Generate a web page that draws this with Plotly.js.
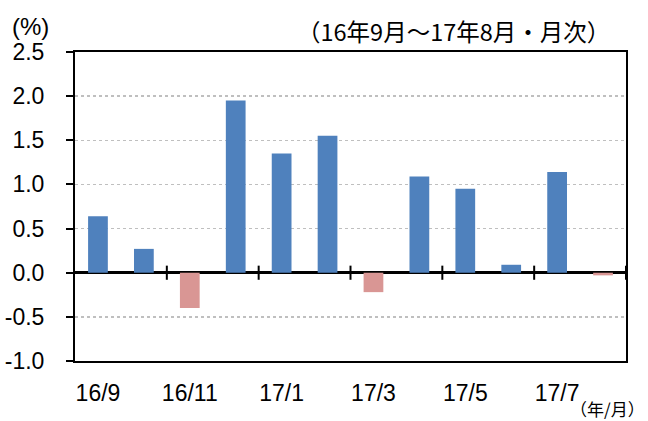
<!DOCTYPE html>
<html>
<head>
<meta charset="utf-8">
<script src="https://cdn.plot.ly/plotly-3.0.1.min.js"></script>
<style>
html,body{margin:0;padding:0;background:#fff;}
#chart{width:648px;height:421px;}
</style>
</head>
<body>
<div id="chart"></div>
<script>
const months = ["16/9","16/10","16/11","16/12","17/1","17/2","17/3","17/4","17/5","17/6","17/7","17/8"];
const values = [0.64, 0.27, -0.40, 1.95, 1.35, 1.55, -0.22, 1.09, 0.95, 0.09, 1.14, -0.03];
const yTickVals = [-1.0, -0.5, 0.0, 0.5, 1.0, 1.5, 2.0, 2.5];
const yTickText = ["-1.0", "-0.5", "0.0", "0.5", "1.0", "1.5", "2.0", "2.5"];
const labelEvery = 2;
const posColor = "#4F81BD";
const negColor = "#D99694";

const xIdx = months.map((m, i) => i);
const tickvals = xIdx.filter(i => i % labelEvery === 0);
const ticktext = tickvals.map(i => months[i]);

const numFont = "Liberation Sans, Arial, sans-serif";
const jpFont = "Noto Sans CJK JP, sans-serif";

const shapes = [];
for (let b = labelEvery - 0.5; b <= months.length - 0.5; b += labelEvery) {
  shapes.push({type: "line", xref: "x", yref: "y", x0: b, x1: b, y0: -0.08, y1: 0.08,
    line: {color: "#000", width: 2}});
}

const trace = {
  type: "bar",
  x: xIdx,
  y: values,
  marker: {color: values.map(v => v >= 0 ? posColor : negColor)},
  width: 0.43,
  hoverinfo: "skip"
};

const layout = {
  width: 648, height: 421,
  margin: {l: 74.5, r: 21.5, t: 52, b: 60},
  paper_bgcolor: "#fff", plot_bgcolor: "#fff",
  showlegend: false,
  font: {family: numFont, size: 23, color: "#000"},
  xaxis: {
    range: [-0.5, months.length - 0.5],
    tickvals: tickvals, ticktext: ticktext,
    ticks: "", showgrid: false, zeroline: false,
    showline: true, linecolor: "#000", linewidth: 2, mirror: true,
    ticklabelstandoff: 10,
    tickfont: {family: numFont, size: 23, color: "#000"}
  },
  yaxis: {
    range: [-1, 2.5], tickvals: yTickVals, ticktext: yTickText,
    ticks: "outside", ticklen: 7, tickwidth: 2, tickcolor: "#000",
    showline: true, linecolor: "#000", linewidth: 2, mirror: true,
    showgrid: true, gridcolor: "#BFBFBF", gridwidth: 1.5, griddash: "dot",
    zeroline: true, zerolinecolor: "#000", zerolinewidth: 3,
    ticklabelstandoff: 17,
    tickfont: {family: numFont, size: 23, color: "#000"}
  },
  shapes: shapes,
  annotations: [
    {text: "(%)", xref: "paper", yref: "paper", x: 0, y: 1.0, xshift: -65, yshift: 26,
     xanchor: "left", yanchor: "middle", showarrow: false,
     font: {family: numFont, size: 24, color: "#000"}},
    {text: "（16年9月～17年8月・月次）", xref: "paper", yref: "paper", x: 1.0, y: 1.0, xshift: -14, yshift: 21,
     xanchor: "right", yanchor: "middle", showarrow: false,
     font: {family: jpFont, size: 23.5, color: "#000"}},
    {text: "（年/月）", xref: "paper", yref: "paper", x: 1.0, y: 0, xshift: 20, yshift: -47,
     xanchor: "right", yanchor: "middle", showarrow: false, borderpad: 0,
     font: {family: jpFont, size: 17, color: "#000"}}
  ]
};

Plotly.newPlot("chart", [trace], layout, {displayModeBar: false, staticPlot: true});
</script>
</body>
</html>
